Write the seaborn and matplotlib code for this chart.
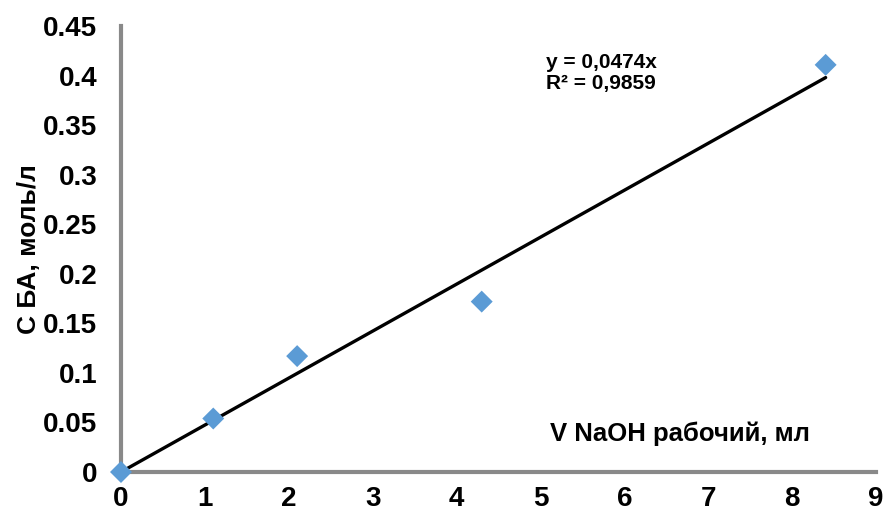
import matplotlib
matplotlib.use("Agg")
import matplotlib.pyplot as plt
import seaborn as sns
import numpy as np
import pandas as pd

# Data
v_naoh = [0.0, 1.1, 2.1, 4.3, 8.4]
c_ba = [0.0, 0.054, 0.117, 0.172, 0.411]
slope = 0.0474
trend_x = [0.0, 8.4]
x_ticks = [0, 1, 2, 3, 4, 5, 6, 7, 8, 9]
y_ticks = [0, 0.05, 0.1, 0.15, 0.2, 0.25, 0.3, 0.35, 0.4, 0.45]
y_tick_labels = ["0", "0.05", "0.1", "0.15", "0.2", "0.25", "0.3", "0.35", "0.4", "0.45"]
eq_text = "y = 0,0474x\nR² = 0,9859"
x_label = "V NaOH рабочий, мл"
y_label = "С БА, моль/л"

sns.set_theme(style="white", rc={"text.color": "black", "axes.labelcolor": "black",
                                 "xtick.color": "black", "ytick.color": "black"})
plt.rcParams['font.family'] = ['Liberation Sans', 'DejaVu Sans']

fig = plt.figure(figsize=(8.85, 5.14), dpi=100)
ax = fig.add_axes([0.1367, 0.0817, 0.8531, 0.8673])

df = pd.DataFrame({"x": v_naoh, "y": c_ba})
trend_df = pd.DataFrame({"x": trend_x, "y": [slope * t for t in trend_x]})

sns.lineplot(data=trend_df, x="x", y="y", ax=ax, color="black", linewidth=2.4, zorder=2)
sns.scatterplot(data=df, x="x", y="y", ax=ax, marker="D", s=125, color="#5B9BD5",
                edgecolor="none", zorder=3, clip_on=False)

ax.set_xlim(0, 9)
ax.set_ylim(0, 0.45)
ax.set_xticks(x_ticks)
ax.set_xticklabels([str(t) for t in x_ticks], fontsize=20, fontweight="bold")
ax.set_yticks(y_ticks)
ax.set_yticklabels(y_tick_labels, fontsize=20, fontweight="bold")
ax.tick_params(axis="y", length=0, pad=17)
ax.tick_params(axis="x", length=0, pad=10)

for side in ["top", "right"]:
    ax.spines[side].set_visible(False)
for side in ["left", "bottom"]:
    ax.spines[side].set_color("#898989")
    ax.spines[side].set_linewidth(3)

ax.set_xlabel(x_label, fontsize=18.5, fontweight="bold")
ax.xaxis.set_label_coords(0.74, 0.113)
ax.set_ylabel(y_label, fontsize=19, fontweight="bold")
ax.yaxis.set_label_coords(-0.106, 0.5)

ax.text(0.563, 0.94, eq_text, transform=ax.transAxes, fontsize=15, fontweight="bold",
        ha="left", va="top", linespacing=1.15)

fig.savefig("out.png", dpi=100)
